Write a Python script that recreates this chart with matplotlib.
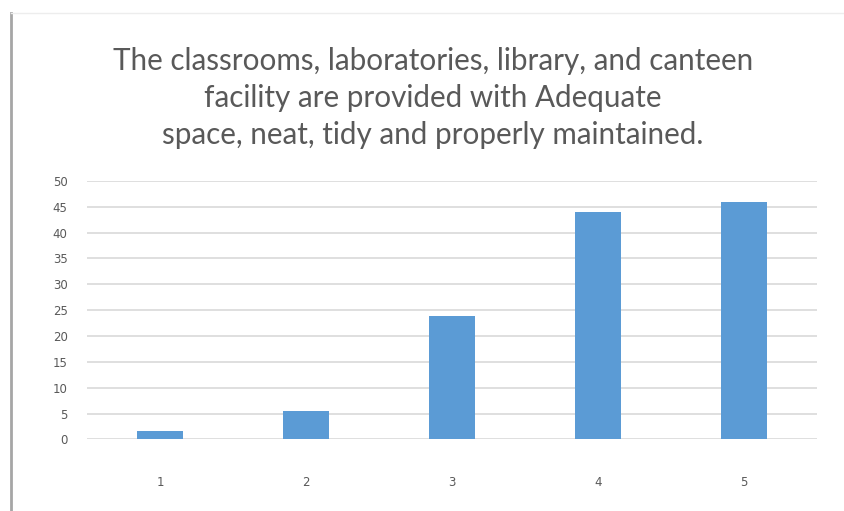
import matplotlib.pyplot as plt
from matplotlib.lines import Line2D

# responses per rating
categories = ["1", "2", "3", "4", "5"]
values = [1.7, 5.6, 23.9, 43.9, 45.9]
yticks = [0, 5, 10, 15, 20, 25, 30, 35, 40, 45, 50]

title = ("The classrooms, laboratories, library, and canteen\n"
         "facility are provided with Adequate\n"
         "space, neat, tidy and properly maintained.")

grey = "#595959"

fig = plt.figure(figsize=(8.45, 5.11), dpi=100)
ax = fig.add_axes([0.103, 0.140, 0.864, 0.506])

x = list(range(len(categories)))
ax.bar(x, values, width=0.315, color="#5b9bd5", zorder=3)

ax.set_xlim(-0.5, len(categories) - 0.5)
ax.set_ylim(0, 50)
ax.set_yticks(yticks)
ax.set_xticks(x)
ax.set_xticklabels(categories)

ax.grid(axis="y", color="#d9d9d9", linewidth=1.2, zorder=0)
for s in ax.spines.values():
    s.set_visible(False)
ax.tick_params(axis="both", length=0, labelcolor=grey, labelsize=8.5)
ax.tick_params(axis="x", pad=26)
ax.tick_params(axis="y", pad=14)

fig.text(0.512, 0.808, title, ha="center", va="center", fontsize=21.3,
         color=grey, family="Lato", linespacing=1.38)

# chart border left over from the screenshot
fig.add_artist(Line2D([0.013, 0.013], [0.0, 0.975], color="#a6a6a6",
                      linewidth=2, transform=fig.transFigure))
fig.add_artist(Line2D([0.013, 1.0], [0.975, 0.975], color="#ededed",
                      linewidth=1, transform=fig.transFigure))

fig.savefig("out.png", dpi=100)
